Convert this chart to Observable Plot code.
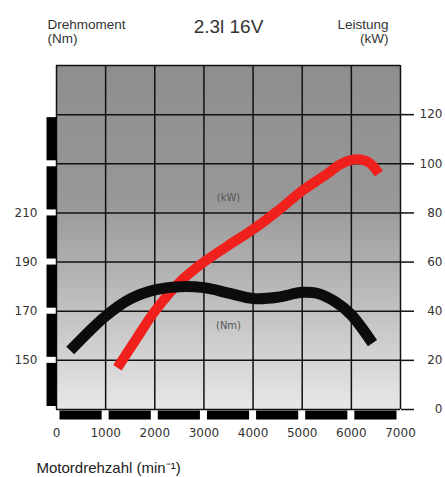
<!DOCTYPE html>
<html>
<head>
<meta charset="utf-8">
<script src="https://cdn.jsdelivr.net/npm/d3@7"></script>
<script src="https://cdn.jsdelivr.net/npm/@observablehq/plot@0.6"></script>
<style>
  html, body { margin: 0; padding: 0; background: #fff; }
</style>
</head>
<body>
<div id="chart"></div>
<script>
// ---- data ----
const rpmTicks = [0, 1000, 2000, 3000, 4000, 5000, 6000, 7000];
const kwTicks = [0, 20, 40, 60, 80, 100, 120];
const nmTicks = [150, 170, 190, 210];
const NM_AT_ZERO_KW = 130; // left axis: 150 Nm sits on the 20 kW line

const torqueRpm = [280, 1000, 1500, 2000, 2500, 3000, 3500, 4000, 4500, 5000, 5300, 5700, 6000, 6430];
const torqueNm  = [154, 168, 175, 178.7, 180, 179.6, 177.4, 175.2, 175.7, 177.7, 177.3, 173.5, 168.5, 157];

const powerRpm = [1240, 1600, 2000, 2500, 3000, 3500, 4000, 4500, 5000, 5500, 5800, 6100, 6350, 6560];
const powerKw  = [17, 28, 40, 51.7, 60, 66.8, 73.3, 80.8, 89, 95.8, 100, 101.8, 100.6, 96];

const curveLabels = ["(kW)", "(Nm)"];
const curveLabelRpm = [3500, 3500];
const curveLabelKw = [86, 34];

// ---- tables for the library ----
const torque = torqueRpm.map((r, i) => ({rpm: r, nm: torqueNm[i]}));
const power = powerRpm.map((r, i) => ({rpm: r, kw: powerKw[i]}));
const labels = curveLabels.map((t, i) => ({text: t, rpm: curveLabelRpm[i], kw: curveLabelKw[i]}));
const xSegments = d3.pairs(rpmTicks);
const ySegments = d3.pairs(kwTicks);

const defs = () => {
  const ns = "http://www.w3.org/2000/svg";
  const g = document.createElementNS(ns, "defs");
  g.innerHTML = `<linearGradient id="bg" x1="0" y1="0" x2="0" y2="1">
      <stop offset="0" stop-color="#8e8e8e"/>
      <stop offset="0.4" stop-color="#989898"/>
      <stop offset="0.75" stop-color="#c6c6c6"/>
      <stop offset="1" stop-color="#e8e8e8"/>
    </linearGradient>`;
  return g;
};

const headFont = "Liberation Sans, Arial, sans-serif";

const chart = Plot.plot({
  width: 445,
  height: 477,
  marginTop: 65,
  marginBottom: 68,
  marginLeft: 56,
  marginRight: 45,
  style: {background: "#fff", fontFamily: "DejaVu Sans, sans-serif", fontSize: "12px", color: "#333"},
  x: {domain: [0, 7000]},
  y: {domain: [0, 140]},
  marks: [
    defs,
    Plot.frame({fill: "url(#bg)", stroke: null}),
    Plot.ruleX(rpmTicks, {stroke: "#111", strokeWidth: 1.5}),
    Plot.ruleY(kwTicks.concat([140]), {stroke: "#111", strokeWidth: 1.5}),
    // black segmented bars along the bottom and left
    Plot.ruleY(xSegments, {y: 0, x1: d => d[0], x2: d => d[1], dy: 5.5, stroke: "#000", strokeWidth: 9, insetLeft: 3.5, insetRight: 3.5}),
    Plot.ruleX(ySegments, {x: 0, y1: d => d[1], y2: d => d[0], dx: -5, stroke: "#000", strokeWidth: 10, insetTop: 3, insetBottom: 3}),
    // axes
    Plot.axisX({ticks: rpmTicks, tickSize: 0, tickPadding: 19, tickFormat: d => String(d), fill: "#333", fontSize: 12, label: null}),
    Plot.axisY({anchor: "right", ticks: kwTicks, tickSize: 13, tickPadding: 29, textAnchor: "end", tickFormat: d => String(d), stroke: "#111", strokeWidth: 1.5, fill: "#333", fontSize: 12, label: null}),
    Plot.text(nmTicks, {x: 0, y: d => d - NM_AT_ZERO_KW, text: d => String(d), textAnchor: "end", dx: -19, fill: "#333", fontSize: 12}),
    // curves
    Plot.line(power, {x: "rpm", y: "kw", stroke: "#f0201c", strokeWidth: 10, curve: "catmull-rom", strokeLinecap: "butt"}),
    Plot.line(torque, {x: "rpm", y: d => d.nm - NM_AT_ZERO_KW, stroke: "#0c0c0c", strokeWidth: 11, curve: "catmull-rom", strokeLinecap: "butt"}),
    Plot.text(labels, {x: "rpm", y: "kw", text: "text", fill: "#555", fontSize: 10}),
    // headers and caption
    Plot.text(["Drehmoment\n(Nm)"], {frameAnchor: "top-left", text: d => d, textAnchor: "start", lineAnchor: "top", dx: -9, dy: -47, fontSize: 13.5, fontFamily: headFont, lineHeight: 1.08, fill: "#333"}),
    Plot.text(["Leistung\n(kW)"], {frameAnchor: "top-right", text: d => d, textAnchor: "end", lineAnchor: "top", dx: -12, dy: -47, fontSize: 13.5, fontFamily: headFont, lineHeight: 1.08, fill: "#333"}),
    Plot.text(["2.3l 16V"], {frameAnchor: "top", text: d => d, lineAnchor: "top", dy: -46, fontSize: 19, fontFamily: headFont, fill: "#333"}),
    Plot.text(["Motordrehzahl (min⁻¹)"], {frameAnchor: "bottom-left", text: d => d, textAnchor: "start", lineAnchor: "top", dx: -20, dy: 53, fontSize: 15, fontFamily: headFont, fill: "#222"})
  ]
});
document.getElementById("chart").appendChild(chart);
</script>
</body>
</html>
